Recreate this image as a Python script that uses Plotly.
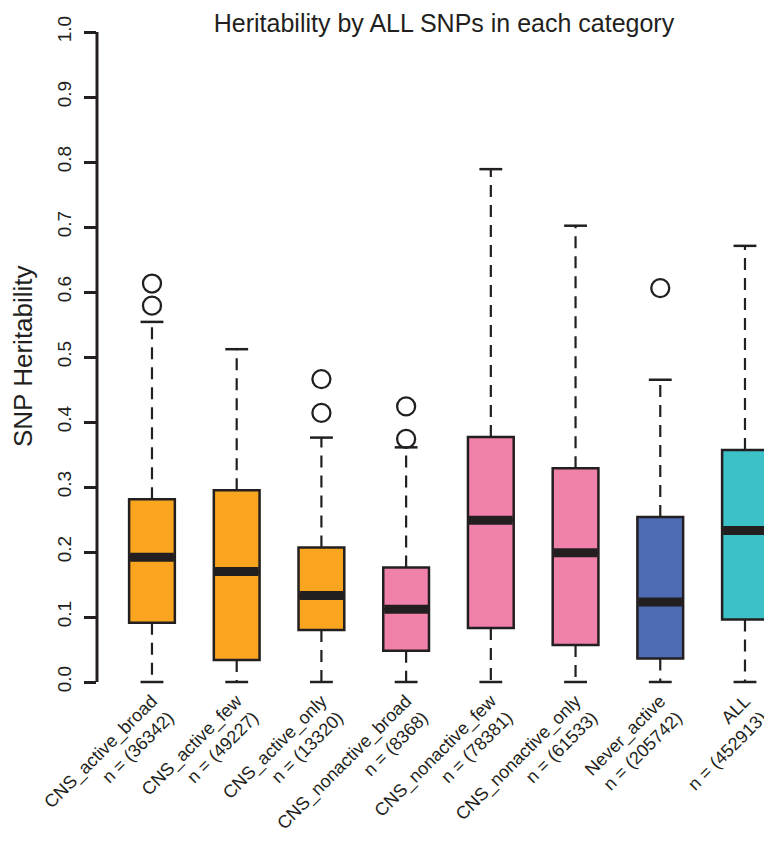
import plotly.graph_objects as go

# 数据：每个类别的箱线图统计量
categories = ["CNS_active_broad", "CNS_active_few", "CNS_active_only", "CNS_nonactive_broad",
              "CNS_nonactive_few", "CNS_nonactive_only", "Never_active", "ALL"]
n_snps = [36342, 49227, 13320, 8368, 78381, 61533, 205742, 452913]
lower = [0.0, 0.0, 0.0, 0.0, 0.0, 0.0, 0.0, 0.0]
q1 = [0.091, 0.034, 0.080, 0.048, 0.083, 0.057, 0.036, 0.096]
median = [0.192, 0.170, 0.133, 0.112, 0.249, 0.199, 0.123, 0.233]
q3 = [0.281, 0.295, 0.207, 0.176, 0.377, 0.329, 0.254, 0.357]
upper = [0.554, 0.512, 0.376, 0.361, 0.789, 0.702, 0.465, 0.671]
outliers = [[0.579, 0.613], [], [0.414, 0.466], [0.374, 0.424], [], [], [0.606], []]
colors = ["#F9A51F", "#F9A51F", "#F9A51F", "#F081AA", "#F081AA", "#F081AA", "#4F6BB3", "#3BC1C7"]

ink = "#231F20"
font = "Liberation Sans, Arial, sans-serif"
bw = 0.54   # 箱宽
cw = 0.27   # 须端横线宽

# 页面 body 默认有 8px 边距，图本身缩小 8px
W, H = 764, 844

fig = go.Figure()

# 须线（虚线）
wx, wy = [], []
for i in range(len(categories)):
    wx += [i, i, None, i, i, None]
    wy += [q3[i], upper[i], None, q1[i], lower[i], None]
fig.add_trace(go.Scatter(x=wx, y=wy, mode="lines", hoverinfo="skip",
                         line=dict(color=ink, width=2.2, dash="12px,8px")))

# 须端横线
cx, cy = [], []
for i in range(len(categories)):
    for v in (upper[i], lower[i]):
        cx += [i - cw / 2, i + cw / 2, None]
        cy += [v, v, None]
fig.add_trace(go.Scatter(x=cx, y=cy, mode="lines", hoverinfo="skip",
                         line=dict(color=ink, width=2.5)))

# 箱体
for i, cat in enumerate(categories):
    fig.add_trace(go.Box(
        x=[i], q1=[q1[i]], median=[median[i]], q3=[q3[i]],
        lowerfence=[q1[i]], upperfence=[q3[i]],
        width=bw, whiskerwidth=0, boxpoints=False,
        fillcolor=colors[i], line=dict(color=ink, width=2.5),
        name=cat))

# 中位数粗线
mx, my = [], []
for i in range(len(categories)):
    mx += [i - bw / 2 + 0.012, i + bw / 2 - 0.012, None]
    my += [median[i], median[i], None]
fig.add_trace(go.Scatter(x=mx, y=my, mode="lines", hoverinfo="skip",
                         line=dict(color=ink, width=9)))

# 离群点
ox, oy = [], []
for i, pts in enumerate(outliers):
    for v in pts:
        ox.append(i)
        oy.append(v)
fig.add_trace(go.Scatter(x=ox, y=oy, mode="markers",
                         marker=dict(symbol="circle-open", size=18, color=ink,
                                     line=dict(width=2.3, color=ink))))

ticktext = [f"{c}<br>n = ({n})" for c, n in zip(categories, n_snps)]

fig.update_layout(
    width=W, height=H,
    margin=dict(l=89, r=0, t=12, b=166),
    paper_bgcolor="white", plot_bgcolor="white",
    showlegend=False, boxmode="overlay",
    font=dict(family=font, color=ink),
    title=dict(text="Heritability by ALL SNPs in each category",
               x=436 / W, xanchor="center", y=1 - 6 / H, yanchor="top",
               pad=dict(t=0, b=0),
               font=dict(size=25, color=ink)),
    xaxis=dict(range=[-0.649, 7.319], tickmode="array",
               tickvals=list(range(len(categories))), ticktext=ticktext,
               tickangle=-45, tickfont=dict(size=18, color=ink),
               showgrid=False, zeroline=False, showline=False, ticks="",
               automargin=False),
    yaxis=dict(range=[-0.00615, 1.01846], tickmode="array",
               tickvals=[k / 10 for k in range(11)],
               ticktext=[f"{k / 10:.1f}" for k in range(11)],
               tickangle=-90, tickfont=dict(size=19, color=ink),
               ticks="outside", ticklen=12, tickwidth=3, tickcolor=ink,
               ticklabelstandoff=5, automargin=False,
               showgrid=False, zeroline=False, showline=False),
)

# y 轴线只画 0 到 1
fig.add_shape(type="line", xref="paper", yref="y", x0=0, x1=0, y0=0, y1=1,
              line=dict(color=ink, width=3))

fig.add_annotation(text="SNP Heritability", xref="paper", yref="paper",
                   x=(15 - 89) / 675, y=(678 - 348) / 666,
                   xanchor="center", yanchor="middle", textangle=-90,
                   showarrow=False, font=dict(size=26, color=ink))

fig.write_html("out.html")
